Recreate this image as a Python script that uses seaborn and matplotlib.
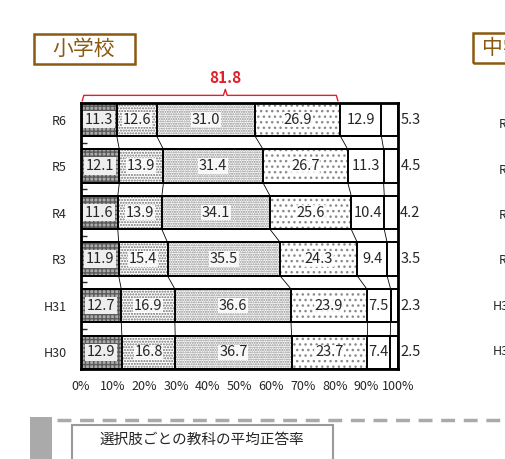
import numpy as np
import pandas as pd
import seaborn as sns
import matplotlib.pyplot as plt
from matplotlib.patches import Rectangle
from matplotlib.lines import Line2D

# data
years = ['R6', 'R5', 'R4', 'R3', 'H31', 'H30']
seg1 = [11.3, 12.1, 11.6, 11.9, 12.7, 12.9]
seg2 = [12.6, 13.9, 13.9, 15.4, 16.9, 16.8]
seg3 = [31.0, 31.4, 34.1, 35.5, 36.6, 36.7]
seg4 = [26.9, 26.7, 25.6, 24.3, 23.9, 23.7]
seg5 = [12.9, 11.3, 10.4, 9.4, 7.5, 7.4]
seg6 = [5.3, 4.5, 4.2, 3.5, 2.3, 2.5]
xticks = [0, 10, 20, 30, 40, 50, 60, 70, 80, 90, 100]
title = '小学校'
title_right = '中学校'
footer = '選択肢ごとの教科の平均正答率'

sns.set_style('white')
plt.rcParams['font.family'] = ['Noto Sans CJK JP', 'DejaVu Sans']

segs = np.array([seg1, seg2, seg3, seg4, seg5, seg6])
cum = segs.cumsum(axis=0)
df = pd.DataFrame(cum.T, columns=[f's{i}' for i in range(6)])
df['year'] = years

fig = plt.figure(figsize=(5.06, 4.59), dpi=100)
ax = fig.add_axes([0.160, 0.196, 0.627, 0.580])

styles = [
    dict(facecolor='#ababab', hatch='++++', edge='#5a5a5a'),
    dict(facecolor='white', hatch='......', edge='#707070'),
    dict(facecolor='white', hatch='.......', edge='#8a8a8a'),
    dict(facecolor='white', hatch='...', edge='#8a8a8a'),
    dict(facecolor='white', hatch=None, edge='white'),
    dict(facecolor='white', hatch=None, edge='white'),
]
bw = 0.72

# stacked bars: draw cumulative totals from the longest down
for k in range(5, -1, -1):
    st = styles[k]
    sns.barplot(data=df, x=f's{k}', y='year', orient='h', order=years,
                color=st['facecolor'], saturation=1, width=bw, errorbar=None,
                edgecolor=st['edge'], linewidth=0, hatch=st['hatch'], ax=ax)
for k in range(5, -1, -1):
    sns.barplot(data=df, x=f's{k}', y='year', orient='h', order=years,
                color='black', fill=False, width=bw, errorbar=None,
                linewidth=1.4, ax=ax)

# connector lines between rows
for i in range(len(years) - 1):
    for k in range(5):
        ax.plot([cum[k, i], cum[k, i + 1]], [i + bw / 2, i + 1 - bw / 2],
                color='black', lw=0.6, zorder=5)

# value labels
for i in range(len(years)):
    for k in range(6):
        v = segs[k, i]
        if k == 5:
            x, ha = cum[k, i] + 0.8, 'left'
        else:
            x, ha = cum[k, i] - v / 2, 'center'
        if k == 0:
            bbox = dict(boxstyle='square,pad=0.12', fc='#eeeeee', ec='none')
        elif k < 4:
            bbox = dict(boxstyle='square,pad=0.05', fc='white', ec='none', alpha=0.85)
        else:
            bbox = None
        ax.text(x, i, f'{v:.1f}', ha=ha, va='center', fontsize=10.5,
                bbox=bbox, zorder=6, clip_on=False)

ax.set_xlim(0, 100)
ax.set_ylim(len(years) - 1 + bw / 2, -bw / 2)
ax.set_xticks(xticks)
ax.set_xticklabels([f'{t}%' for t in xticks], fontsize=9)
ax.set_yticks(range(len(years)))
ax.set_yticklabels(years, fontsize=9)
ax.set_yticks(np.arange(0.5, len(years) - 1, 1), minor=True)
ax.tick_params(axis='x', direction='in', length=4, width=1, pad=8)
ax.tick_params(axis='y', which='major', length=0, pad=10)
ax.tick_params(axis='y', which='minor', direction='in', length=4, width=1, left=True)
ax.set_xlabel('')
ax.set_ylabel('')
for sp in ax.spines.values():
    sp.set_visible(True)
    sp.set_linewidth(2)
    sp.set_color('black')

# red bracket over R6
total = seg1[0] + seg2[0] + seg3[0] + seg4[0]
peak = 45.5
by = -bw / 2 - 0.16
bx = [0.4, 0.9, peak - 0.6, peak, peak + 0.6, total - 1.3, total - 0.8]
byy = [-bw / 2 - 0.04, by, by, by - 0.13, by, by, -bw / 2 - 0.04]
ax.plot(bx, byy, color='#e0202a', lw=1.0, clip_on=False)
ax.text(peak, by - 0.38, f'{total:.1f}', color='#e0202a', fontsize=11,
        fontweight='bold', ha='center', va='center')

# title boxes
W, H = 506, 459
def px(x, y):
    return x / W, 1 - y / H

brown = '#8a5a10'
fig.patches.append(Rectangle(px(34, 64), 101 / W, 30 / H, transform=fig.transFigure,
                             fill=False, ec=brown, lw=1.8))
fig.text(*px(84, 49), title, color=brown, fontsize=15, ha='center', va='center')
fig.patches.append(Rectangle(px(473, 63), 100 / W, 30 / H, transform=fig.transFigure,
                             fill=False, ec=brown, lw=1.8))
fig.text(*px(482, 48), title_right, color=brown, fontsize=15, ha='left', va='center')

# cut-off row labels of the next panel
for i, yl in enumerate(years):
    xx = 499 if yl.startswith('R') else 493
    fig.text(*px(xx, 125 + i * 45.3), yl, fontsize=9, ha='left', va='center')

# footer section
fig.lines.append(Line2D([57 / W, 1.0], [1 - 420 / H, 1 - 420 / H], transform=fig.transFigure,
                        color='#aaaaaa', lw=2.5, dashes=(4, 2.5)))
fig.patches.append(Rectangle(px(30, 459), 22 / W, 42 / H, transform=fig.transFigure,
                             fc='#aaaaaa', ec='none'))
fig.patches.append(Rectangle(px(72, 470), 261 / W, 45 / H, transform=fig.transFigure,
                             fc='white', ec='#9a9a9a', lw=1.5))
fig.text(*px(202, 440), footer, fontsize=10.5, ha='center', va='center')

fig.savefig('out.png', dpi=100)
